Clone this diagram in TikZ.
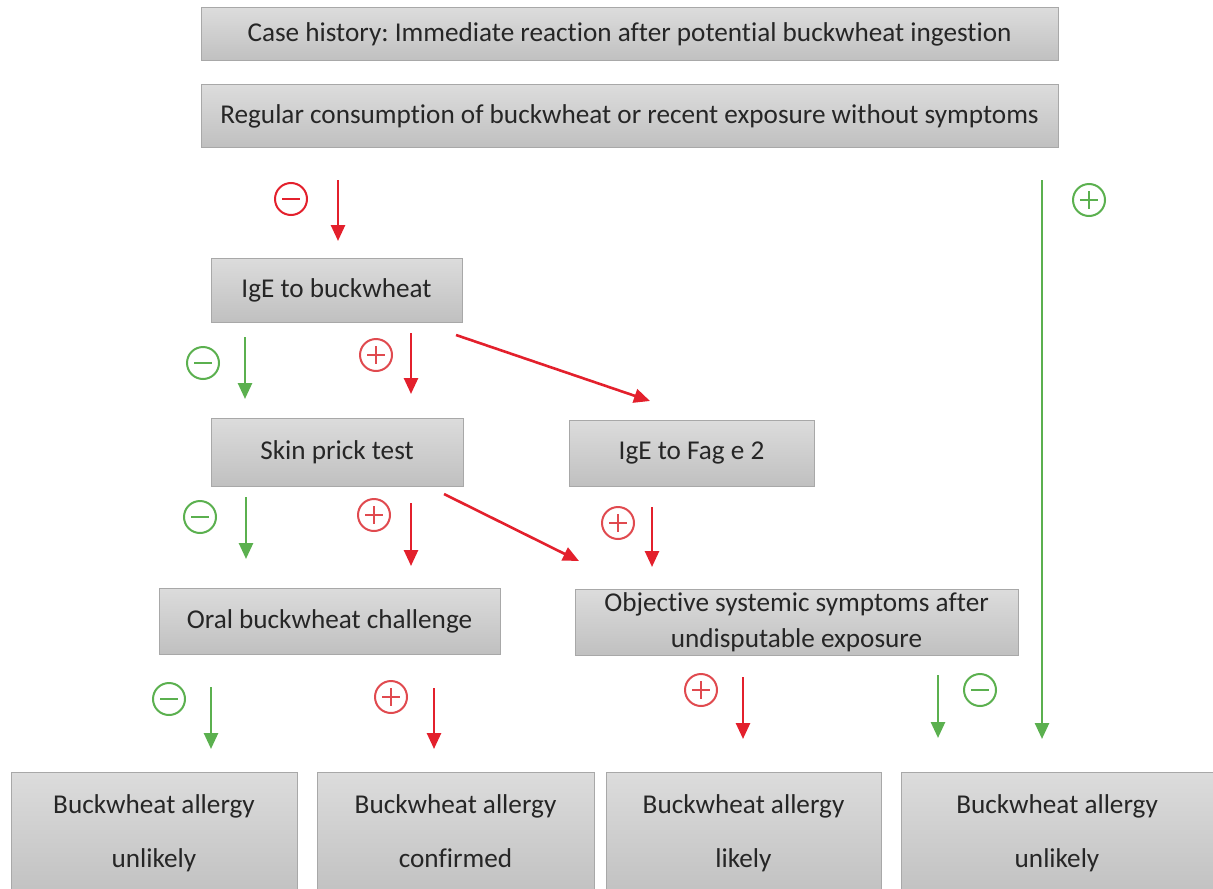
\documentclass[tikz,border=0pt]{standalone}
\usepackage{fontspec}
\setmainfont[Ligatures=NoCommon]{Carlito}
\usetikzlibrary{arrows.meta}
\frenchspacing

\definecolor{arrred}{HTML}{E3202C}
\definecolor{signred}{HTML}{E04A4F}
\definecolor{arrgreen}{HTML}{5BB04F}
\definecolor{boxtop}{HTML}{DCDCDC}
\definecolor{boxbot}{HTML}{C0C0C0}
\definecolor{boxline}{HTML}{A8A8A8}

\tikzset{
    box/.style={draw=boxline, line width=0.5pt, top color=boxtop, bottom color=boxbot,
        inner sep=0pt, align=center, text=black!85, font=\fontsize{13.6}{16}\selectfont},
    redarr/.style={draw=arrred, line width=1.3pt, -{Triangle[length=8pt,width=7pt]}},
    greenarr/.style={draw=arrgreen, line width=1.3pt, -{Triangle[length=8pt,width=7pt]}},
    sign/.style={circle, draw, line width=1pt, minimum size=16pt, inner sep=0pt},
    minus/.style={sign, path picture={
        \draw[line width=1pt] ([xshift=-4.3pt]path picture bounding box.center) -- ++(8.6pt,0);}},
    plus/.style={sign, path picture={
        \draw[line width=1pt] ([xshift=-4.3pt]path picture bounding box.center) -- ++(8.6pt,0);
        \draw[line width=1pt] ([yshift=-4.3pt]path picture bounding box.center) -- ++(0,8.6pt);}}
}

\begin{document}
\begin{tikzpicture}[x=0.5pt,y=-0.5pt]
        \useasboundingbox (0,0) rectangle (1213,888);

        % boxes
        \node[box, minimum width=428.5pt, minimum height=26.5pt] (history) at (629.5,34.5)
            {Case history: Immediate reaction after potential buckwheat ingestion};
        \node[box, minimum width=428.5pt, minimum height=31pt] (regular) at (629.5,116)
            {Regular consumption of buckwheat or recent exposure without symptoms};
        \node[box, minimum width=125.5pt, minimum height=32pt] (ige) at (336.5,290)
            {IgE to buckwheat};
        \node[box, minimum width=126pt, minimum height=34pt] (spt) at (337,452)
            {Skin prick test};
        \node[box, minimum width=122.5pt, minimum height=33pt] (fage) at (691.5,453)
            {IgE to Fag e 2};
        \node[box, minimum width=170.5pt, minimum height=33pt] (oral) at (329.5,621)
            {Oral buckwheat challenge};
        \node[box, minimum width=221.5pt, minimum height=33pt] (objective) at (796.5,622.5)
            {Objective systemic symptoms after\\[2pt]undisputable exposure};

        % outcome boxes
        \node[box, minimum width=143pt, minimum height=64pt] (unlikelyA) at (154,836)
            {Buckwheat allergy\\[11pt]unlikely\strut};
        \node[box, minimum width=138.5pt, minimum height=64pt] (confirmed) at (455.5,836)
            {Buckwheat allergy\\[11pt]confirmed\strut};
        \node[box, minimum width=137.5pt, minimum height=64pt] (likely) at (743.5,836)
            {Buckwheat allergy\\[11pt]likely\strut};
        \node[box, minimum width=156pt, minimum height=64pt] (unlikelyB) at (1057,836)
            {Buckwheat allergy\\[11pt]unlikely\strut};

        % arrow ends
        \coordinate (r1s) at (338,180);  \coordinate (r1e) at (338,241);
        \coordinate (g1s) at (1042,180); \coordinate (g1e) at (1042,739);
        \coordinate (g2s) at (245,337);  \coordinate (g2e) at (245,399);
        \coordinate (r2s) at (411,333);  \coordinate (r2e) at (411,394);
        \coordinate (r3s) at (456,335);  \coordinate (r3e) at (650,401);
        \coordinate (g3s) at (246,497);  \coordinate (g3e) at (246,559);
        \coordinate (r4s) at (411,503);  \coordinate (r4e) at (411,566);
        \coordinate (r5s) at (444,494);  \coordinate (r5e) at (579,561);
        \coordinate (r6s) at (652,507);  \coordinate (r6e) at (652,567);
        \coordinate (g4s) at (211,687);  \coordinate (g4e) at (211,749);
        \coordinate (r7s) at (434,688);  \coordinate (r7e) at (434,749);
        \coordinate (r8s) at (743,677);  \coordinate (r8e) at (743,739);
        \coordinate (g5s) at (938,675);  \coordinate (g5e) at (938,738);

        \draw[redarr] (r1s) -- (r1e);
        \draw[greenarr] (g1s) -- (g1e);
        \draw[greenarr] (g2s) -- (g2e);
        \draw[redarr] (r2s) -- (r2e);
        \draw[redarr] (r3s) -- (r3e);
        \draw[greenarr] (g3s) -- (g3e);
        \draw[redarr] (r4s) -- (r4e);
        \draw[redarr] (r5s) -- (r5e);
        \draw[redarr] (r6s) -- (r6e);
        \draw[greenarr] (g4s) -- (g4e);
        \draw[redarr] (r7s) -- (r7e);
        \draw[redarr] (r8s) -- (r8e);
        \draw[greenarr] (g5s) -- (g5e);

        % signs
        \node[minus, arrred] (s1) at (291,199) {};
        \node[plus, arrgreen] (s2) at (1089,200) {};
        \node[minus, arrgreen] (s3) at (203,363) {};
        \node[plus, signred] (s4) at (376,355) {};
        \node[minus, arrgreen] (s5) at (200,517) {};
        \node[plus, signred] (s6) at (374,515) {};
        \node[plus, signred] (s7) at (618,523) {};
        \node[minus, arrgreen] (s8) at (169,699) {};
        \node[plus, signred] (s9) at (391,697) {};
        \node[plus, signred] (s10) at (701,690) {};
        \node[minus, arrgreen] (s11) at (980,690) {};
\end{tikzpicture}
\end{document}
